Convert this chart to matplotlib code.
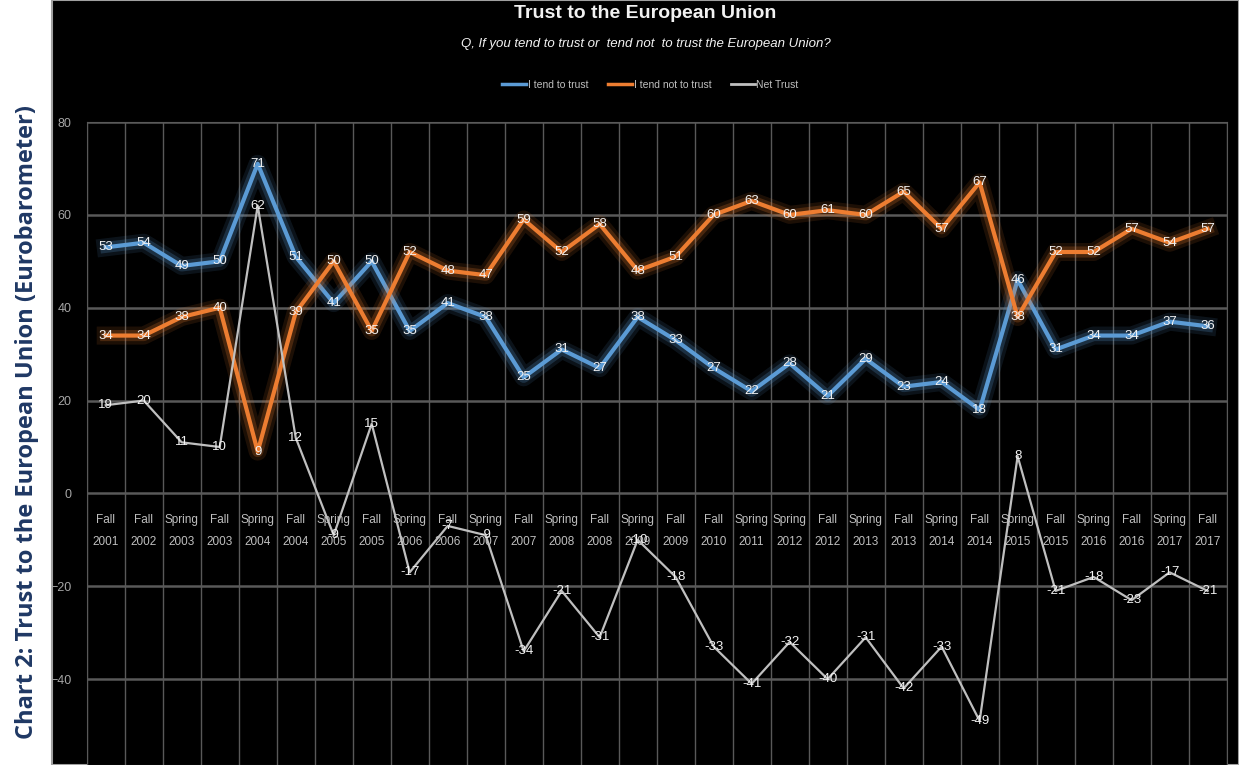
import matplotlib.pyplot as plt
import matplotlib.patheffects as pe
from matplotlib.patches import Rectangle
from matplotlib.lines import Line2D
import numpy as np

# Survey waves and the three series
waves = ['Fall\n2001', 'Fall\n2002', 'Spring\n2003', 'Fall\n2003', 'Spring\n2004',
         'Fall\n2004', 'Spring\n2005', 'Fall\n2005', 'Spring\n2006', 'Fall\n2006',
         'Spring\n2007', 'Fall\n2007', 'Spring\n2008', 'Fall\n2008', 'Spring\n2009',
         'Fall\n2009', 'Fall\n2010', 'Spring\n2011', 'Spring\n2012', 'Fall\n2012',
         'Spring\n2013', 'Fall\n2013', 'Spring\n2014', 'Fall\n2014', 'Spring\n2015',
         'Fall\n2015', 'Spring\n2016', 'Fall\n2016', 'Spring\n2017', 'Fall\n2017']
trust = [53, 54, 49, 50, 71, 51, 41, 50, 35, 41, 38, 25, 31, 27, 38,
         33, 27, 22, 28, 21, 29, 23, 24, 18, 46, 31, 34, 34, 37, 36]
not_trust = [34, 34, 38, 40, 9, 39, 50, 35, 52, 48, 47, 59, 52, 58, 48,
             51, 60, 63, 60, 61, 60, 65, 57, 67, 38, 52, 52, 57, 54, 57]
net_trust = [19, 20, 11, 10, 62, 12, -9, 15, -17, -7, -9, -34, -21, -31, -10,
             -18, -33, -41, -32, -40, -31, -42, -33, -49, 8, -21, -18, -23, -17, -21]
yticks = [-40, -20, 0, 20, 40, 60, 80]

plt.rcParams['font.family'] = ['Liberation Sans', 'DejaVu Sans']

fig = plt.figure(figsize=(12.39, 7.65), dpi=100, facecolor='white')
# black panel to the right of the white strip
fig.add_artist(Rectangle((0.042, 0), 0.958, 1, transform=fig.transFigure,
                         facecolor='black', edgecolor='#a0a0a0', lw=1.5, zorder=0))

ax = fig.add_axes([0.070, 0.0, 0.920, 0.8405])
ax.set_facecolor('black')

x = np.arange(len(waves))
series = [(trust, '#5B9BD5', 3.0, 'I tend to trust', True),
          (not_trust, '#ED7D31', 3.0, 'I tend not to trust', True),
          (net_trust, '#BFBFBF', 1.6, 'Net Trust', False)]
handles = []
for vals, col, lw, name, glow in series:
    if glow:
        # soft halo round the line
        effects = [pe.Stroke(linewidth=lw + 10, foreground=col, alpha=0.12),
                   pe.Stroke(linewidth=lw + 5, foreground=col, alpha=0.22),
                   pe.Normal()]
    else:
        effects = []
    ax.plot(x, vals, color=col, lw=lw, path_effects=effects, zorder=3)
    handles.append(Line2D([], [], color=col, lw=2.5 if glow else 2.0, label=name))
    for xi, v in zip(x, vals):
        ax.text(xi, v, str(v), ha='center', va='center', color='#F2F2F2',
                fontsize=9.5, zorder=5)

# category labels sit inside the plot just under zero
for xi, lab in zip(x, waves):
    ax.text(xi, -4.4, lab, ha='center', va='top', color='#BFBFBF', fontsize=8.5,
            linespacing=2.1, zorder=2)

ax.set_xlim(-0.5, len(waves) - 0.5)
ax.set_ylim(-58.5, 80)
ax.set_yticks(yticks)
ax.set_xticks([])
ax.set_xticks(np.arange(len(waves) + 1) - 0.5, minor=True)
ax.tick_params(axis='y', colors='#A6A6A6', labelsize=9, length=0, pad=11)
ax.tick_params(axis='x', which='both', length=0, labelbottom=False)
ax.grid(axis='y', color='#595959', lw=1.8, zorder=1)
ax.grid(axis='x', which='minor', color='#595959', lw=1.0, zorder=1)
for s in ax.spines.values():
    s.set_color('#595959')

fig.text(0.521, 0.983, 'Trust to the European Union', ha='center', va='center',
         color='#F2F2F2', fontsize=14, fontweight='bold')
fig.text(0.521, 0.943, 'Q, If you tend to trust or  tend not  to trust the European Union?',
         ha='center', va='center', color='#F2F2F2', fontsize=9.5, style='italic')
fig.legend(handles=handles, loc='center', bbox_to_anchor=(0.525, 0.889), ncol=3,
           frameon=False, fontsize=7.5, labelcolor='#BFBFBF', handlelength=2.3,
           handletextpad=0.15, columnspacing=1.9)

fig.text(0.022, 0.448, 'Chart 2: Trust to the European Union (Eurobarometer)',
         rotation=90, ha='center', va='center', color='#1F3864', fontsize=17,
         fontweight='bold', family='Open Sans')

fig.savefig('out.png', dpi=100, facecolor=fig.get_facecolor())
